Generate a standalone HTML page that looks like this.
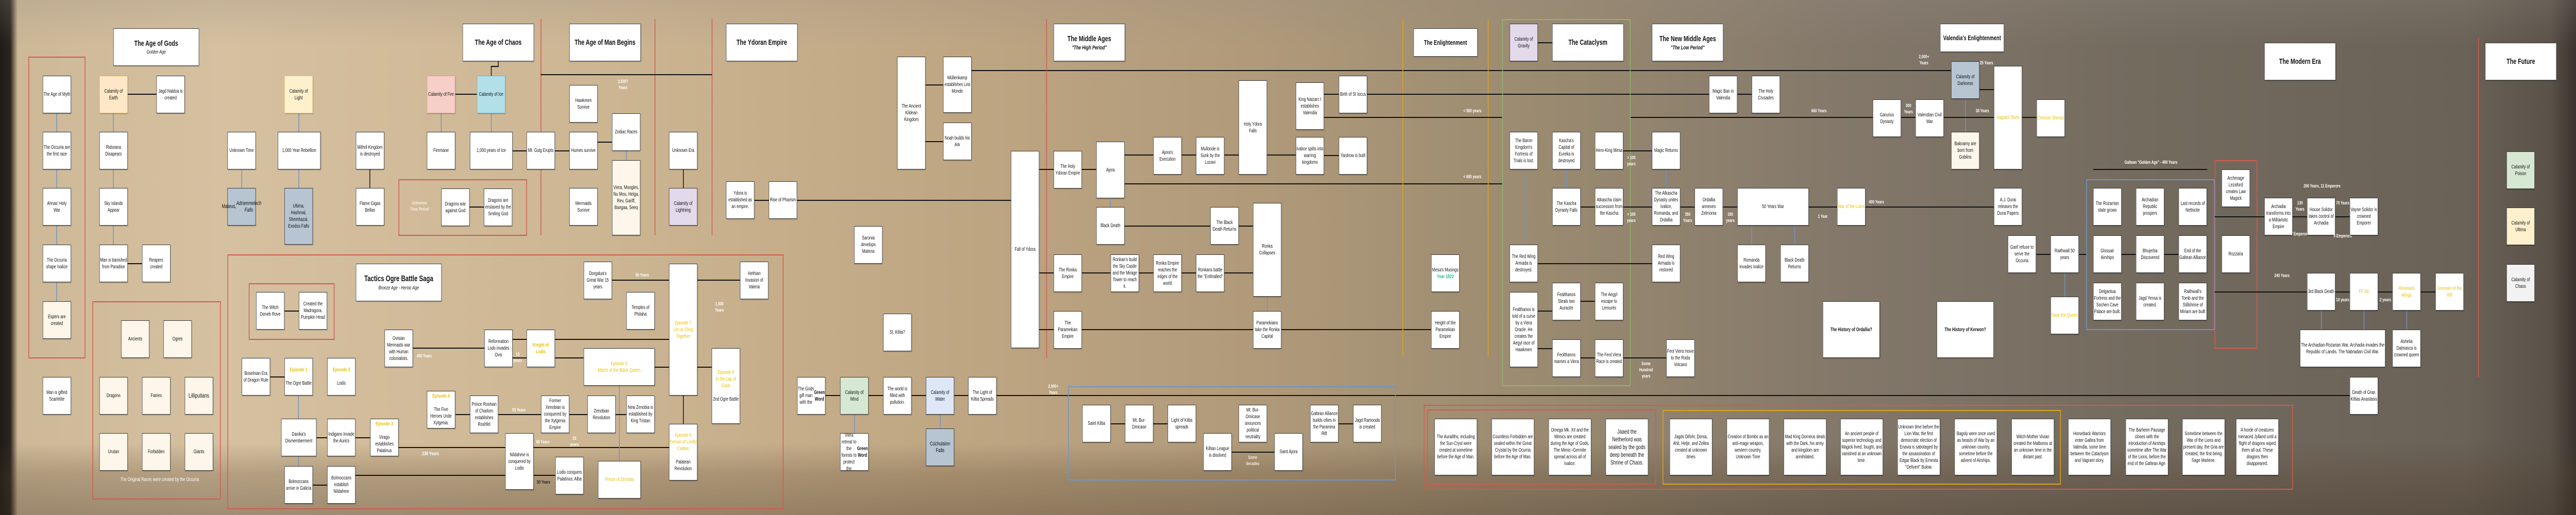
<!DOCTYPE html>
<html><head><meta charset="utf-8">
<style>
*{margin:0;padding:0;box-sizing:border-box}
html,body{margin:0;width:100%;height:100%;overflow:hidden;background:#8a7c68}
#root{position:absolute;left:0;top:0;width:7000px;height:1000px;overflow:hidden;transform-origin:0 0;font-family:"Liberation Sans",sans-serif;
background:linear-gradient(90deg,#1e1a16 0,#2b251f 28px,#cdb897 48px,#d5c0a0 600px,#cdb693 1600px,#bfa683 2600px,#b09a7a 3400px,#9a8a70 4200px,#83786a 5000px,#746b5f 5800px,#6a6257 6700px,#5a5249 6930px,#3a342e 7000px)}
#ov{position:absolute;left:0;top:0;width:7000px;height:1000px;background:linear-gradient(180deg,rgba(150,140,130,.25) 0,rgba(0,0,0,0) 90px,rgba(0,0,0,0) 860px,rgba(80,60,40,.25) 920px,rgba(60,45,30,.35) 1000px)}
.b{position:absolute;width:77px;height:73px;background:#fff;border:1px solid #3a3a3a;box-shadow:1px 1px 2px rgba(0,0,0,.35);display:flex;align-items:center;justify-content:center;text-align:center;font-size:10px;line-height:13px;color:#111;padding:1px}
.t{position:absolute;background:#fff;border:1px solid #444;box-shadow:1px 1px 2px rgba(0,0,0,.3);display:flex;flex-direction:column;align-items:center;justify-content:center;font-weight:bold;font-size:15px;color:#111;text-align:center}
.t i{font-weight:normal;font-size:10px;margin-top:3px}
.t i.bi{font-weight:bold;font-size:11px}
.y{color:#e8c000;font-weight:bold}
.h{position:absolute;height:2px;background:#111}
.v{position:absolute;width:2px;background:#111}
.bv{position:absolute;width:2px;background:#7193c4}
.r{position:absolute;border:2px solid #d35a4e}
.bx{position:absolute;border:2px solid #6e95c8}
.g{position:absolute;border:2px solid #8fb66a}
.o{position:absolute;border:2px solid #e0a21a}
.rv{position:absolute;width:2px;background:#d35a4e}
.ov{position:absolute;width:2px;background:#e0a21a}
.l{position:absolute;color:#fff;font-size:9px;font-weight:bold;text-align:center;line-height:12px}
.n{width:116px;height:110px;font-size:10px}
</style></head><body>
<div id="root">
<div id="ov"></div>

<!-- REGION 1 -->
<div class="t" style="left:308px;top:55px;width:233px;height:73px">The Age of Gods<i>Golden Age</i></div>
<div class="r" style="left:77px;top:110px;width:155px;height:586px"></div>
<div class="bv" style="left:153px;top:219px;height:256px"></div>
<div class="bv" style="left:153px;top:476px;height:110px"></div>
<div class="b" style="left:116px;top:147px">The Age of Myth</div>
<div class="b" style="left:116px;top:256px">The Occuria are the first race</div>
<div class="b" style="left:116px;top:365px">Ahnas' Holy War</div>
<div class="b" style="left:116px;top:475px">The Occuria shape Ivalice</div>
<div class="b" style="left:116px;top:585px;background:#fdf6ea">Espers are created</div>
<div class="b" style="left:116px;top:732px">Man is gifted Scarletite</div>

<div class="bv" style="left:307px;top:219px;height:256px"></div>
<div class="h" style="left:347px;top:182px;width:78px"></div>
<div class="h" style="left:347px;top:511px;width:40px"></div>
<div class="b" style="left:270px;top:147px;background:#fde7c6;border-color:#e8b060">Calamity of Earth</div>
<div class="b" style="left:425px;top:147px">Jagd Naldoa is created</div>
<div class="b" style="left:270px;top:256px">Ridorana Disapears</div>
<div class="b" style="left:270px;top:365px">Sky Islands Appear</div>
<div class="b" style="left:270px;top:475px">Man is banished from Paradise</div>
<div class="b" style="left:386px;top:475px">Reapers created</div>

<div class="r" style="left:251px;top:585px;width:349px;height:385px"></div>
<div class="b" style="left:329px;top:622px;background:#fdf6ea">Ancients</div>
<div class="b" style="left:444px;top:622px;background:#fdf6ea">Ogres</div>
<div class="b" style="left:270px;top:732px;background:#fdf6ea">Dragons</div>
<div class="b" style="left:386px;top:732px;background:#fdf6ea">Fairies</div>
<div class="b" style="left:502px;top:732px;background:#fdf6ea;font-size:12px">Lilliputians</div>
<div class="b" style="left:270px;top:841px;background:#fdf6ea">Urutan</div>
<div class="b" style="left:386px;top:841px;background:#fdf6ea">Forbidden</div>
<div class="b" style="left:502px;top:841px;background:#fdf6ea">Giants</div>
<div class="l" style="left:290px;top:926px;width:290px;font-weight:normal;font-size:10px">The Original Races were created by the Occuria.</div>

<div class="bv" style="left:656px;top:329px;height:36px"></div>
<div class="b" style="left:618px;top:256px">Unknown Time</div>
<div class="b" style="left:618px;top:365px;background:#b7c5d3;font-size:11px">Mateus, <i>Adrammelech Falls</i></div>
<div class="bv" style="left:811px;top:219px;height:150px"></div>
<div class="b" style="left:773px;top:147px;background:#fdf0cc;border-color:#e8d090">Calamity of Light</div>
<div class="b" style="left:755px;top:256px;width:116px">1,000 Year Rebellion</div>
<div class="b" style="left:773px;top:365px;height:110px;background:#b7c5d3">Ultima, Hashmal, Shemhazai, Exodus Falls</div>
<div class="v" style="left:1004px;top:329px;height:36px"></div>
<div class="b" style="left:967px;top:256px">Mithril Kingdom is destroyed</div>
<div class="b" style="left:967px;top:365px">Flame Gigas Bellas</div>

<div class="bv" style="left:1198px;top:219px;height:37px"></div>
<div class="h" style="left:1237px;top:182px;width:60px"></div>
<div class="b" style="left:1160px;top:147px;background:#f6cfc8;border-color:#e0a098">Calamity of Fire</div>
<div class="b" style="left:1160px;top:256px">Firemane</div>
<div class="r" style="left:1083px;top:348px;width:349px;height:110px"></div>
<div class="l" style="left:1110px;top:388px;width:60px;color:#f4ece0">Unknown Time Period</div>
<div class="h" style="left:1275px;top:401px;width:40px"></div>
<div class="b" style="left:1199px;top:366px">Dragons war against God</div>
<div class="b" style="left:1315px;top:366px">Dragons are enslaved by the Smiling God</div>

<!-- Age of Chaos etc -->
<div class="t" style="left:1257px;top:46px;width:194px;height:73px">The Age of Chaos</div>
<div class="v" style="left:1353px;top:119px;height:11px"></div>
<div class="h" style="left:1334px;top:128px;width:21px"></div>
<div class="v" style="left:1334px;top:128px;height:19px"></div>
<div class="bv" style="left:1334px;top:219px;height:37px"></div>
<div class="b" style="left:1296px;top:147px;background:#b3e0e8;border-color:#80b0c8">Calamity of Ice</div>
<div class="h" style="left:1393px;top:292px;width:154px"></div>
<div class="b" style="left:1277px;top:256px;width:116px">1,000 years of Ice</div>
<div class="rv" style="left:1469px;top:37px;height:420px"></div>
<div class="rv" style="left:1779px;top:37px;height:420px"></div>
<div class="rv" style="left:1934px;top:37px;height:420px"></div>
<div class="h" style="left:1469px;top:144px;width:466px"></div>
<div class="l" style="left:1668px;top:152px;width:50px">3,500? Years</div>
<div class="b" style="left:1431px;top:256px">Mt. Gulg Erupts</div>
<div class="t" style="left:1547px;top:46px;width:194px;height:73px">The Age of Man Begins</div>
<div class="b" style="left:1547px;top:165px">Hawkmen Survive</div>
<div class="h" style="left:1624px;top:275px;width:40px"></div>
<div class="b" style="left:1547px;top:256px">Humes survive</div>
<div class="b" style="left:1547px;top:365px">Mermaids Survive</div>
<div class="bv" style="left:1701px;top:292px;height:20px"></div>
<div class="b" style="left:1663px;top:220px">Zodiac Races</div>
<div class="b" style="left:1663px;top:311px;height:146px;background:#fdf6ea">Viera, Moogles, Nu Mou, Helga, Rev, Gariff, Bangaa, Seeq</div>
<div class="v" style="left:1856px;top:329px;height:36px"></div>
<div class="b" style="left:1818px;top:256px">Unknown Era</div>
<div class="b" style="left:1818px;top:365px;background:#e2d9ea">Calamity of Lightning</div>
<div class="t" style="left:1973px;top:46px;width:194px;height:73px">The Ydoran Empire</div>
<div class="h" style="left:2050px;top:388px;width:697px"></div>
<div class="b" style="left:1973px;top:352px">Ydora is established as an empire.</div>
<div class="b" style="left:2089px;top:352px">Rise of Pharism</div>
<div class="b" style="left:2321px;top:439px">Saronia develops Materia</div>

<!-- Tactics Ogre -->
<div class="r" style="left:618px;top:494px;width:1511px;height:495px"></div>
<div class="t" style="left:967px;top:512px;width:233px;height:73px;font-size:16px">Tactics Ogre Battle Saga<i>Bronze Age - Heroic Age</i></div>
<div class="r" style="left:676px;top:550px;width:233px;height:110px"></div>
<div class="h" style="left:773px;top:603px;width:40px"></div>
<div class="b" style="left:696px;top:567px">The Witch Deneb Rove</div>
<div class="b" style="left:812px;top:567px">Created the Madragora, Pumpkin Head</div>
<div class="h" style="left:1122px;top:675px;width:194px"></div>
<div class="l" style="left:1128px;top:685px;width:50px">400 Years</div>
<div class="b" style="left:1045px;top:640px">Ovisian Mermaids war with Human colonialists.</div>
<div class="h" style="left:734px;top:731px;width:40px"></div>
<div class="bv" style="left:810px;top:768px;height:137px"></div>
<div class="b" style="left:657px;top:695px">Boselnian Era of Dragon Rule</div>
<div class="b" style="left:773px;top:695px;flex-direction:column"><span class="y">Episode 1</span><br>The Ogre Battle</div>
<div class="b" style="left:889px;top:695px;flex-direction:column"><span class="y">Episode 2</span><br>Lodis</div>
<div class="b" style="left:1160px;top:759px;flex-direction:column"><span class="y">Episode 4</span><br>The Five Heroes Unite Xytgenia.</div>
<div class="h" style="left:860px;top:849px;width:146px"></div>
<div class="b" style="left:764px;top:813px;width:96px">Danika's Dismemberment</div>
<div class="b" style="left:889px;top:813px">Indigans Invade the Aurics</div>
<div class="h" style="left:1083px;top:868px;width:735px"></div>
<div class="b" style="left:1006px;top:813px;flex-direction:column"><span class="y">Episode 3</span><br>Virago establishes Palatinus</div>
<div class="h" style="left:850px;top:941px;width:40px"></div>
<div class="h" style="left:966px;top:922px;width:543px"></div>
<div class="b" style="left:773px;top:905px">Bolmoccans arrive in Galicia</div>
<div class="b" style="left:889px;top:905px">Bolmoccans establish Nildahme</div>
<div class="l" style="left:1140px;top:876px;width:60px;font-size:10px">238 Years</div>

<div class="h" style="left:1663px;top:543px;width:348px"></div>
<div class="l" style="left:1715px;top:528px;width:60px">50 Years</div>
<div class="b" style="left:1586px;top:508px">Dorgalua's Great War 15 years</div>
<div class="b" style="left:1702px;top:567px">Temples of Philaha</div>
<div class="b" style="left:2011px;top:508px">Hethian Invasion of Valeria</div>
<div class="l" style="left:1935px;top:584px;width:40px">1,000 Years</div>
<div class="h" style="left:1393px;top:658px;width:425px"></div>
<div class="h" style="left:1393px;top:694px;width:193px"></div>
<div class="h" style="left:1779px;top:712px;width:155px"></div>
<div class="b" style="left:1316px;top:640px">Reformation Lods invades Ovis</div>
<div class="l" style="left:1393px;top:682px;width:28px">15 years</div>
<div class="b" style="left:1431px;top:640px"><span class="y">Knight of Lodis</span></div>
<div class="bv" style="left:1682px;top:749px;height:146px"></div>
<div class="b" style="left:1586px;top:676px;width:193px"><span class="y" style="font-weight:normal">Episode 5<br>March of the Black Queen</span></div>
<div class="v" style="left:1856px;top:768px;height:55px"></div>
<div class="b" style="left:1818px;top:512px;height:256px"><span class="y" style="font-weight:normal">Episode 7<br>Let us Cling Together</span></div>
<div class="b" style="left:1934px;top:676px;height:147px;flex-direction:column"><span class="y" style="font-weight:normal">Episode 8<br>In the Lap of Gods</span><br>2nd Ogre Battle</div>
<div class="h" style="left:1238px;top:804px;width:464px"></div>
<div class="b" style="left:1277px;top:768px">Prince Roshian of Charlom establishes Roshfel</div>
<div class="l" style="left:1385px;top:790px;width:50px">55 Years</div>
<div class="b" style="left:1470px;top:768px">Former Xenobian is conquered by the Xytgenia Empire</div>
<div class="l" style="left:1547px;top:845px;width:28px">25 years</div>
<div class="b" style="left:1596px;top:768px">Zenobian Revolution</div>
<div class="b" style="left:1702px;top:768px">New Zenobia is established by King Tristan</div>
<div class="l" style="left:1450px;top:852px;width:50px">60 Years</div>
<div class="l" style="left:1452px;top:930px;width:50px;color:#222">50 Years</div>
<div class="b" style="left:1373px;top:841px;height:110px">Nildahme is conquered by Lodis</div>
<div class="b" style="left:1509px;top:887px">Lodis conquers Palatinus; Alba</div>
<div class="b" style="left:1625px;top:895px;width:116px"><span class="y" style="font-weight:normal">Prince of Zenobia</span></div>
<div class="b" style="left:1818px;top:823px;height:110px;flex-direction:column"><span class="y" style="font-weight:normal">Episode 6<br>Person of Lordly Caliber</span><br>Palatean Revolution</div>

<div class="h" style="left:2243px;top:767px;width:4142px"></div>
<div class="bv" style="left:2321px;top:805px;height:37px"></div>
<div class="b" style="left:2166px;top:732px">The Gods gift man with the <b>Green Word</b></div>
<div class="b" style="left:2283px;top:732px;background:#d6e8d3">Calamity of Wind</div>
<div class="b" style="left:2283px;top:841px">Viera retreat to the forests to protect the <b>Green Word</b></div>

<!-- REGION 3 -->
<div class="h" style="left:2515px;top:164px;width:48px"></div>
<div class="h" style="left:2515px;top:274px;width:48px"></div>
<div class="h" style="left:2640px;top:136px;width:2662px"></div>
<div class="b" style="left:2438px;top:110px;height:219px">The Ancient Kildean Kingdom</div>
<div class="b" style="left:2563px;top:110px;height:109px">Müllenkamp establishes Lea Monde</div>
<div class="b" style="left:2563px;top:238px">Noah builds his Ark</div>
<div class="rv" style="left:2843px;top:37px;height:658px"></div>
<div class="t" style="left:2863px;top:46px;width:194px;height:73px">The Middle Ages<i class="bi">"The High Period"</i></div>
<div class="h" style="left:2824px;top:328px;width:155px"></div>
<div class="h" style="left:3056px;top:300px;width:465px"></div>
<div class="h" style="left:3056px;top:356px;width:1026px"></div>
<div class="b" style="left:2747px;top:293px;height:383px">Fall of Ydora</div>
<div class="b" style="left:2863px;top:293px">The Holy Ydoran Empire</div>
<div class="b" style="left:2979px;top:275px;height:110px">Ajora</div>
<div class="b" style="left:3134px;top:266px">Ajora's Execution</div>
<div class="b" style="left:3250px;top:266px">Mullonde is Sunk by the Lucavi</div>
<div class="b" style="left:3366px;top:156px;height:183px">Holy Ydora Falls</div>
<div class="b" style="left:3521px;top:160px;height:92px">King Naizarc I establishes Valendia</div>
<div class="b" style="left:3521px;top:266px">Ivalice splits into warring kingdoms</div>
<div class="bv" style="left:3016px;top:385px;height:17px"></div>
<div class="h" style="left:3056px;top:438px;width:349px"></div>
<div class="b" style="left:2979px;top:402px">Black Death</div>
<div class="b" style="left:3289px;top:402px">The Black Death Returns</div>
<div class="h" style="left:2824px;top:529px;width:581px"></div>
<div class="bv" style="left:3443px;top:576px;height:28px"></div>
<div class="b" style="left:3405px;top:394px;height:182px">Ronka Collapses</div>
<div class="b" style="left:2863px;top:494px">The Ronka Empire</div>
<div class="b" style="left:3018px;top:494px">Ronkan's build the Sky Castle and the Mirage Tower to reach it.</div>
<div class="b" style="left:3134px;top:494px">Ronka Empire reaches the edges of the world</div>
<div class="b" style="left:3250px;top:494px">Ronkans battle the "Enthralled"</div>
<div class="h" style="left:2824px;top:639px;width:1065px"></div>
<div class="b" style="left:2863px;top:604px">The Paramekian Empire</div>
<div class="b" style="left:3405px;top:604px">Paramekians take the Ronka Capital</div>
<div class="b" style="left:2400px;top:609px">St. Kiltia?</div>
<div class="bv" style="left:2554px;top:805px;height:28px"></div>
<div class="b" style="left:2400px;top:732px">The world is filled with pollution.</div>
<div class="b" style="left:2516px;top:732px;background:#dde7f7">Calamity of Water</div>
<div class="b" style="left:2516px;top:832px;background:#b7c5d3;font-size:11px">Cúchulainn Falls</div>
<div class="b" style="left:2631px;top:732px">The Light of Kiltia Spreads</div>
<div class="l" style="left:2842px;top:744px;width:40px">2,000+ Years</div>
<div class="bx" style="left:2902px;top:750px;width:891px;height:183px"></div>
<div class="h" style="left:3018px;top:822px;width:155px"></div>
<div class="h" style="left:3346px;top:877px;width:117px"></div>
<div class="h" style="left:3638px;top:822px;width:40px"></div>
<div class="b" style="left:2941px;top:786px">Saint Kiltia</div>
<div class="b" style="left:3057px;top:786px">Mt. Bur-Omicase</div>
<div class="b" style="left:3173px;top:786px">Light of Kiltia spreads</div>
<div class="b" style="left:3366px;top:786px">Mt. Bur-Omicase anounces political neutrality</div>
<div class="b" style="left:3270px;top:841px">Kiltian League is disolved</div>
<div class="l" style="left:3382px;top:882px;width:44px;color:#f6ecdc">Some decades</div>
<div class="b" style="left:3463px;top:841px">Saint Ajora</div>
<div class="b" style="left:3560px;top:786px">Galtean Alliance builds cities in the Paramina Rift</div>
<div class="b" style="left:3677px;top:786px">Jagd Ramooda is created</div>

<!-- REGION 4 -->
<div class="ov" style="left:3811px;top:37px;height:655px"></div>
<div class="ov" style="left:4043px;top:37px;height:655px"></div>
<div class="t" style="left:3841px;top:55px;width:174px;height:55px;font-size:13px">The Enlightenment</div>
<div class="h" style="left:3598px;top:182px;width:1162px"></div>
<div class="h" style="left:3598px;top:227px;width:484px"></div>
<div class="h" style="left:4431px;top:227px;width:658px"></div>
<div class="h" style="left:3598px;top:301px;width:40px"></div>
<div class="b" style="left:3638px;top:147px">Birth of St Iocus</div>
<div class="b" style="left:3638px;top:266px">Yardrow is built</div>
<div class="l" style="left:3966px;top:209px;width:70px">&lt; 500 years</div>
<div class="l" style="left:3966px;top:337px;width:70px">&lt; 600 years</div>
<div class="bv" style="left:3927px;top:567px;height:37px"></div>
<div class="b" style="left:3889px;top:494px;flex-direction:column">Mesa's Musings<span style="color:#19c48a;font-weight:bold">Year 1822</span></div>
<div class="b" style="left:3889px;top:604px">Height of the Paramekian Empire</div>

<div class="g" style="left:4082px;top:37px;width:349px;height:713px"></div>
<div class="h" style="left:4179px;top:82px;width:40px"></div>
<div class="b" style="left:4102px;top:46px;background:#e2d9ea">Calamity of Gravity</div>
<div class="t" style="left:4218px;top:46px;width:194px;height:73px">The Cataclysm</div>
<div class="t" style="left:4489px;top:46px;width:194px;height:73px">The New Middle Ages<i class="bi">"The Low Period"</i></div>
<div class="bv" style="left:4140px;top:329px;height:146px"></div>
<div class="bv" style="left:4256px;top:329px;height:36px"></div>
<div class="h" style="left:4411px;top:292px;width:78px"></div>
<div class="bv" style="left:4527px;top:329px;height:36px"></div>
<div class="b" style="left:4102px;top:256px">The Baron Kingdom's Fortress of Trials is lost.</div>
<div class="b" style="left:4218px;top:256px">Kascha's Capital of Eureka is destroyed</div>
<div class="b" style="left:4334px;top:256px">Hero-King Mesa</div>
<div class="l" style="left:4413px;top:300px;width:40px">&gt; 100 years</div>
<div class="b" style="left:4489px;top:256px">Magic Returns</div>
<div class="h" style="left:4295px;top:401px;width:426px"></div>
<div class="h" style="left:4915px;top:401px;width:503px"></div>
<div class="b" style="left:4218px;top:365px">The Kascha Dynasty Falls</div>
<div class="b" style="left:4334px;top:365px">Atkascha claim succession from the Kascha</div>
<div class="l" style="left:4413px;top:410px;width:40px">&gt; 100 years</div>
<div class="b" style="left:4489px;top:365px">The Atkascha Dynasty unites Ivalice, Romanda, and Ordallia</div>
<div class="l" style="left:4566px;top:410px;width:40px">350 Years</div>
<div class="b" style="left:4605px;top:365px">Ordallia annexes Zelmonia</div>
<div class="l" style="left:4682px;top:410px;width:40px">100 years</div>
<div class="bv" style="left:4759px;top:438px;height:37px"></div>
<div class="bv" style="left:4876px;top:438px;height:37px"></div>
<div class="b" style="left:4721px;top:365px;width:194px">50 Years War</div>
<div class="b" style="left:4721px;top:475px">Romanda invades Ivalice</div>
<div class="b" style="left:4838px;top:475px">Black Death Returns</div>
<div class="h" style="left:4179px;top:511px;width:310px"></div>
<div class="b" style="left:4102px;top:475px">The Red Wing Armada is destroyed.</div>
<div class="b" style="left:4489px;top:475px">Red Wing Armada is restored</div>
<div class="h" style="left:4179px;top:603px;width:40px"></div>
<div class="h" style="left:4179px;top:676px;width:40px"></div>
<div class="h" style="left:4295px;top:584px;width:40px"></div>
<div class="h" style="left:4295px;top:694px;width:233px"></div>
<div class="b" style="left:4102px;top:567px;height:146px">Fealthanos is told of a curse by a Viera Oracle. He creates the Aegyl race of Hawkmen</div>
<div class="b" style="left:4218px;top:549px">Fealthanos Steals two Auracite</div>
<div class="b" style="left:4334px;top:549px">The Aegyl escape to Lemurés</div>
<div class="b" style="left:4218px;top:659px">Feolthanos marries a Viera</div>
<div class="b" style="left:4334px;top:659px">The Feol Viera Race is created</div>
<div class="l" style="left:4448px;top:700px;width:50px">Some Hundred years</div>
<div class="b" style="left:4528px;top:659px">Feol Viera move to the Roda Volcano</div>
<div class="h" style="left:4721px;top:182px;width:40px"></div>
<div class="b" style="left:4644px;top:147px">Magic Ban in Valendia</div>
<div class="b" style="left:4760px;top:147px">The Holy Crusades</div>

<!-- bottom notes -->
<div class="r" style="left:3869px;top:786px;width:2362px;height:165px"></div>
<div class="r" style="left:3878px;top:795px;width:622px;height:146px"></div>
<div class="o" style="left:4518px;top:796px;width:1082px;height:145px"></div>
<div class="b n" style="left:3898px;top:813px">The Auraliths, including the Sun-Cryst were created at sometime before the Age of Man.</div>
<div class="b n" style="left:4053px;top:813px">Countless Forbidden are sealed within the Great Crystal by the Ocurria before the Age of Man.</div>
<div class="b n" style="left:4208px;top:813px">Omega Mk. XII and the Mimics are created during the Age of Gods. The Mimic--Germite spread across all of Ivalice.</div>
<div class="b n" style="left:4363px;top:813px;font-size:12px;line-height:15px">Jaaed the Netherlord was sealed by the gods deep beneath the Shrine of Chaos.</div>
<div class="b n" style="left:4537px;top:813px">Jagds Difohr, Dorsa, Ahli, Helje, and Zellea created at unknown times</div>
<div class="b n" style="left:4692px;top:813px">Creation of Bombs as an anti-mage weapon, western country, Unknown Time</div>
<div class="b n" style="left:4847px;top:813px">Mad King Dorneus deals with the Dark, his army and kingdom are annihilated.</div>
<div class="b n" style="left:5001px;top:813px">An ancient people of superior technology and Magick lived, fought, and vanished at an unknown time.</div>
<div class="b n" style="left:5156px;top:813px">Unknown time before the Lion War, the first democratic election of Enavia is sabotaged by the assassination of Edgar Black by Ernesta "Oelivert" Bulow.</div>
<div class="b n" style="left:5311px;top:813px">Bagoly were once used as beasts of War by an unknown country, sometime before the advent of Airships.</div>
<div class="b n" style="left:5466px;top:813px">Witch-Mother Vivian created the Malboros at an unknown time in the distant past.</div>
<div class="b n" style="left:5620px;top:813px">Horseback Warriors enter Galtea from Valendia, some time between the Cataclysm and Vagrant story.</div>
<div class="b n" style="left:5776px;top:813px">The Barheim Passage closes with the introduction of Airships sometime after The War of the Lions, before the end of the Galtean Age.</div>
<div class="b n" style="left:5930px;top:813px">Sometime between the War of the Lions and present day, the Gria are created, the first being Sage Marlene.</div>
<div class="b n" style="left:6076px;top:813px">A horde of creatures menaced Jylland until a flight of dragons wiped them all out. These dragons then disappeared.</div>

<!-- REGION 5 -->
<div class="t" style="left:5272px;top:46px;width:174px;height:55px;font-size:13px">Valendia's Enlightenment</div>
<div class="l" style="left:5208px;top:104px;width:40px">2,000+ Years</div>
<div class="l" style="left:5378px;top:116px;width:40px">25 Years</div>
<div class="h" style="left:5379px;top:173px;width:40px"></div>
<div class="bv" style="left:5340px;top:193px;height:63px"></div>
<div class="b" style="left:5302px;top:119px;background:#b7c5d3">Calamity of Darkness</div>
<div class="l" style="left:4918px;top:209px;width:50px">660 Years</div>
<div class="h" style="left:5166px;top:227px;width:40px"></div>
<div class="h" style="left:5282px;top:227px;width:136px"></div>
<div class="h" style="left:5495px;top:227px;width:40px"></div>
<div class="b" style="left:5089px;top:193px">Garunus Dynasty</div>
<div class="l" style="left:5166px;top:199px;width:40px">300 Years</div>
<div class="b" style="left:5205px;top:193px">Valendian Civil War</div>
<div class="l" style="left:5362px;top:209px;width:50px">36 Years</div>
<div class="b" style="left:5418px;top:128px;height:201px"><span class="y" style="font-weight:normal">Vagrant Story</span></div>
<div class="b" style="left:5534px;top:193px"><span class="y" style="font-weight:normal">Crimson Shroud</span></div>
<div class="b" style="left:5302px;top:256px;background:#fdf6ea">Baknamy are born from Goblins</div>
<div class="l" style="left:4928px;top:414px;width:50px">1 Year</div>
<div class="b" style="left:4992px;top:365px"><span class="y" style="font-weight:normal">War of the Lions</span></div>
<div class="l" style="left:5074px;top:386px;width:50px">400 Years</div>
<div class="b" style="left:5418px;top:365px">A.J. Durai releases the Durai Papers</div>
<div class="b" style="left:4953px;top:585px;width:155px;height:110px;font-weight:bold">The History of Ordallia?</div>
<div class="b" style="left:5263px;top:585px;width:155px;height:110px;font-weight:bold">The History of Kerwon?</div>
<div class="h" style="left:5533px;top:493px;width:136px"></div>
<div class="bv" style="left:5610px;top:530px;height:46px"></div>
<div class="b" style="left:5456px;top:457px">Garif refuse to serve the Occuria</div>
<div class="b" style="left:5572px;top:457px">Raithwall 50 years</div>
<div class="b" style="left:5572px;top:576px"><span class="y" style="font-weight:normal">Save the Queen</span></div>
<div class="l" style="left:5730px;top:309px;width:230px">Galtean "Golden Age" - 400 Years</div>
<div class="h" style="left:5688px;top:328px;width:310px"></div>
<div class="bx" style="left:5669px;top:348px;width:349px;height:293px"></div>
<div class="h" style="left:5765px;top:493px;width:155px"></div>
<div class="b" style="left:5688px;top:365px">The Rozarrian state grows</div>
<div class="b" style="left:5804px;top:365px">Archadian Republic prospers</div>
<div class="b" style="left:5920px;top:365px">Last records of Nethicite</div>
<div class="b" style="left:5688px;top:457px">Glossair Airships</div>
<div class="b" style="left:5804px;top:457px">Bhujerba Discovered</div>
<div class="b" style="left:5920px;top:457px">End of the Galtean Alliance</div>
<div class="b" style="left:5688px;top:549px">Delgantua Fortress and the Sochen Cave Palace are built.</div>
<div class="b" style="left:5804px;top:549px">Jagd Yensa is created.</div>
<div class="b" style="left:5920px;top:549px">Raithwall's Tomb and the Stillshrine of Miriam are built</div>

<!-- REGION 6 -->
<div class="r" style="left:6018px;top:311px;width:116px;height:366px"></div>
<div class="b" style="left:6037px;top:329px">Archmage Lezaford creates Law Magick</div>
<div class="b" style="left:6037px;top:457px">Rozzaria</div>
<div class="t" style="left:6153px;top:83px;width:194px;height:73px">The Modern Era</div>
<div class="l" style="left:6240px;top:355px;width:140px">200 Years, 11 Emperors</div>
<div class="h" style="left:6018px;top:420px;width:367px"></div>
<div class="b" style="left:6153px;top:384px">Archadia transforms into a Militaristic Empire</div>
<div class="l" style="left:6230px;top:388px;width:40px">130 Years</div>
<div class="l" style="left:6225px;top:448px;width:50px">7 Emperors</div>
<div class="b" style="left:6269px;top:384px">House Solidor takes control of Archadia</div>
<div class="l" style="left:6346px;top:388px;width:40px">70 Years</div>
<div class="l" style="left:6341px;top:452px;width:50px">4 Emperors</div>
<div class="b" style="left:6385px;top:384px">Vayne Solidor is crowned Emporer</div>
<div class="l" style="left:6176px;top:529px;width:50px">240 Years</div>
<div class="h" style="left:6018px;top:566px;width:600px"></div>
<div class="bv" style="left:6307px;top:603px;height:37px"></div>
<div class="bv" style="left:6423px;top:603px;height:37px"></div>
<div class="bv" style="left:6539px;top:603px;height:37px"></div>
<div class="b" style="left:6269px;top:530px">3rd Black Death</div>
<div class="l" style="left:6346px;top:576px;width:40px">10 years</div>
<div class="b" style="left:6385px;top:530px"><span class="y" style="font-weight:normal">FF XII</span></div>
<div class="l" style="left:6462px;top:576px;width:40px">2 years</div>
<div class="b" style="left:6501px;top:530px"><span class="y" style="font-weight:normal">Revenant Wings</span></div>
<div class="b" style="left:6618px;top:530px"><span class="y" style="font-weight:normal">Grimoire of the Rift</span></div>
<div class="b" style="left:6250px;top:640px;width:232px">The Archadian-Rozarian War. Archadia invades the Republic of Landis. The Nabradian Civil War.</div>
<div class="b" style="left:6501px;top:640px">Ashelia Dalmasca is crowned queen</div>
<div class="b" style="left:6385px;top:732px">Death of Gran Kiltias Anastasis</div>
<div class="rv" style="left:6734px;top:74px;height:658px"></div>
<div class="t" style="left:6753px;top:83px;width:194px;height:73px">The Future</div>
<div class="b" style="left:6811px;top:294px;background:#d6e8d3">Calamity of Poison</div>
<div class="b" style="left:6811px;top:403px;background:#fdf0cc">Calamity of Ultima</div>
<div class="b" style="left:6811px;top:513px;background:#f2f2f2">Calamity of Chaos</div>
</div>
<script>
(function(){
  var r=document.getElementById('root');
  function fit(){
    var w=window.innerWidth||document.documentElement.clientWidth||7000;
    var h=window.innerHeight||document.documentElement.clientHeight||1000;
    var sx=w/7000, sy=h/1000;
    if(Math.abs(sx-1)>0.001||Math.abs(sy-1)>0.001){r.style.transform='scale('+sx+','+sy+')';}else{r.style.transform='none';}
  }
  fit();
  window.addEventListener('resize',fit);
})();
</script>
</body></html>
